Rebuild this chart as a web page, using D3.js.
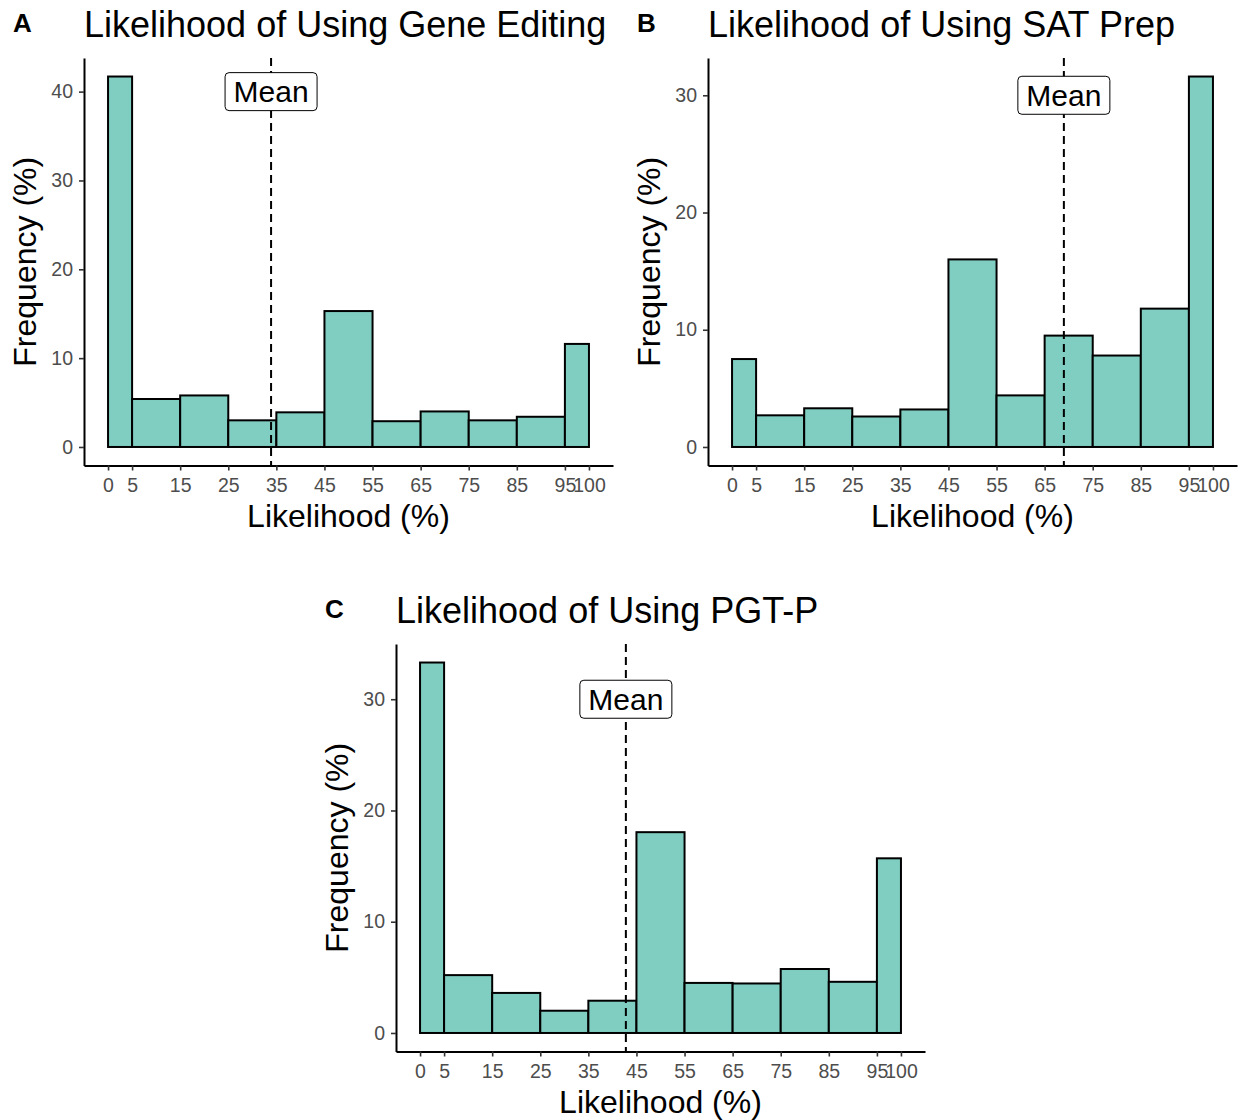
<!DOCTYPE html>
<html>
<head>
<meta charset="utf-8">
<script src="https://cdn.jsdelivr.net/npm/d3@7"></script>
<style>
	body { margin: 0; background: #fff; }
	svg text { font-family: "Liberation Sans", Arial, sans-serif; }
</style>
</head>
<body>
<svg id="chart" width="1244" height="1120"></svg>
<script>
// histogram bin edges and x tick labels (shared by all panels)
const binEdges = [0, 5, 15, 25, 35, 45, 55, 65, 75, 85, 95, 100];
const xTicks = [0, 5, 15, 25, 35, 45, 55, 65, 75, 85, 95, 100];

// frequency (%) per bin
const geneEditing = [41.7, 5.4, 5.8, 3.0, 3.9, 15.3, 2.9, 4.0, 3.0, 3.4, 11.6];
const satPrep = [7.5, 2.7, 3.3, 2.6, 3.2, 16.0, 4.4, 9.5, 7.8, 11.8, 31.6];
const pgtP = [33.3, 5.2, 3.6, 2.0, 2.9, 18.05, 4.5, 4.45, 5.75, 4.6, 15.7];

// mean likelihood and where the "Mean" label sits on the y axis
const means = [33.9, 69.0, 42.8];
const meanLabelY = [40, 30, 30];

const titles = ["Likelihood of Using Gene Editing", "Likelihood of Using SAT Prep", "Likelihood of Using PGT-P"];
const letters = ["A", "B", "C"];
const series = [geneEditing, satPrep, pgtP];

// panel placement (left/top of plot area)
const layout = [
	{left: 84, top: 58},
	{left: 708, top: 58},
	{left: 396, top: 644}
];
const W = 529, H = 407.5;
const fill = "#80cdc1";

const svg = d3.select("#chart");

series.forEach((values, p) => {
	const {left, top} = layout[p];
	const g = svg.append("g").attr("transform", `translate(${left},${top})`);
	const max = d3.max(values);

	// ggplot style 5% expansion on both scales
	const x = d3.scaleLinear().domain([-5, 105]).range([0, W]);
	const y = d3.scaleLinear().domain([-0.05 * max, 1.05 * max]).range([H, 0]);

	const bins = values.map((v, i) => ({x0: binEdges[i], x1: binEdges[i + 1], v: v}));
	g.append("g").selectAll("rect").data(bins).enter().append("rect")
		.attr("x", d => x(d.x0))
		.attr("width", d => x(d.x1) - x(d.x0))
		.attr("y", d => y(d.v))
		.attr("height", d => y(0) - y(d.v))
		.attr("fill", fill)
		.attr("stroke", "#000")
		.attr("stroke-width", 2);

	// dashed mean line over the bars
	g.append("line")
		.attr("x1", x(means[p])).attr("x2", x(means[p]))
		.attr("y1", 0).attr("y2", H)
		.attr("stroke", "#000").attr("stroke-width", 2)
		.attr("stroke-dasharray", "8,5");

	// label box
	const lab = g.append("g").attr("transform", `translate(${x(means[p])},${y(meanLabelY[p])})`);
	lab.append("rect")
		.attr("x", -46).attr("y", -19).attr("width", 92).attr("height", 38)
		.attr("rx", 4).attr("ry", 4)
		.attr("fill", "#fff").attr("stroke", "#000").attr("stroke-width", 1);
	lab.append("text").text("Mean")
		.attr("text-anchor", "middle").attr("dy", "0.36em")
		.attr("font-size", 30).attr("fill", "#000");

	// axes
	const xAxis = g.append("g").attr("transform", `translate(0,${H})`)
		.call(d3.axisBottom(x).tickValues(xTicks).tickSize(5).tickSizeOuter(0).tickPadding(7.5));
	const yAxis = g.append("g")
		.call(d3.axisLeft(y).tickValues(d3.range(0, max, 10)).tickSize(5).tickSizeOuter(0).tickPadding(6));
	[xAxis, yAxis].forEach(a => {
		a.select(".domain").attr("stroke", "#000").attr("stroke-width", 2);
		a.selectAll(".tick line").attr("stroke", "#333").attr("stroke-width", 1.6);
		a.selectAll(".tick text").attr("fill", "#4d4d4d").attr("font-size", 19.5)
			.style("font-family", "'Liberation Sans', Arial, sans-serif");
	});

	// axis titles
	g.append("text").text("Likelihood (%)")
		.attr("x", W / 2).attr("y", H + 61.5)
		.attr("text-anchor", "middle").attr("font-size", 32).attr("fill", "#000");
	g.append("text").text("Frequency (%)")
		.attr("transform", `translate(-48,${H / 2}) rotate(-90)`)
		.attr("text-anchor", "middle").attr("font-size", 32).attr("fill", "#000");

	// panel title and tag letter
	g.append("text").text(titles[p])
		.attr("x", 0).attr("y", -21.5)
		.attr("font-size", 36).attr("fill", "#000");
	g.append("text").text(letters[p])
		.attr("x", -71).attr("y", -26.5)
		.attr("font-size", 26).attr("font-weight", "bold").attr("fill", "#000");
});
</script>
</body>
</html>
